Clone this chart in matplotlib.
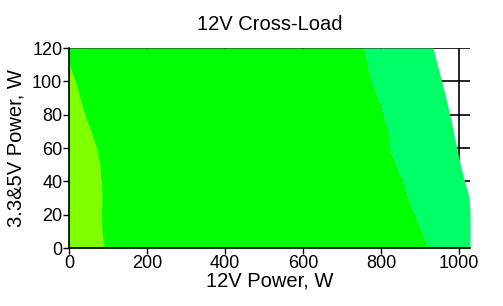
import matplotlib
matplotlib.use("Agg")
import matplotlib.pyplot as plt

plt.rcParams['font.family'] = ['Liberation Sans', 'DejaVu Sans']

# boundaries: 3.3&5V load (W) -> 12V load (W)
y_low = [0, 10, 20, 30, 40, 50, 60, 70, 80, 90, 100, 110]
edge_low = [90, 84, 82, 84, 82, 78, 70, 56, 40, 28, 16, 0]

y_all = [0, 10, 20, 30, 40, 50, 60, 70, 80, 90, 100, 110, 120]
edge_mid = [920, 905, 885, 870, 855, 838, 822, 818, 805, 792, 775, 765, 756]
edge_high = [1028, 1028, 1028, 1026, 1014, 1003, 994, 985, 976, 966, 955, 944, 933]

xticks = [0, 200, 400, 600, 800, 1000]
yticks = [0, 20, 40, 60, 80, 100, 120]

fig = plt.figure(figsize=(5.03, 3.06), dpi=100)
ax = fig.add_axes([0.1378, 0.1895, 0.7966, 0.6535])

ax.fill_betweenx(y_all, 0, edge_mid, color='#00ff00', lw=0, zorder=2)
ax.fill_betweenx(y_low, 0, edge_low, color='#80ff00', lw=0, zorder=3)
ax.fill_betweenx(y_all, edge_mid, edge_high, color='#00ff66', lw=0, zorder=2)

ax.set_xlim(0, 1028)
ax.set_ylim(0, 120)
ax.set_xticks(xticks)
ax.set_yticks(yticks)
ax.grid(True, color='black', lw=1.2, zorder=1)
ax.set_axisbelow(True)
for s in ['top', 'right']:
    ax.spines[s].set_visible(False)
for s in ['left', 'bottom']:
    ax.spines[s].set_linewidth(1.2)
    ax.spines[s].set_zorder(5)
ax.tick_params(labelsize=13, length=4, width=1, pad=1)

ax.set_title('12V Cross-Load', fontsize=14.5, pad=13)
ax.set_xlabel('12V Power, W', fontsize=14.5, labelpad=0)
ax.set_ylabel('3.3&5V Power, W', fontsize=14.5, labelpad=5)

fig.savefig('out.png', dpi=100)
